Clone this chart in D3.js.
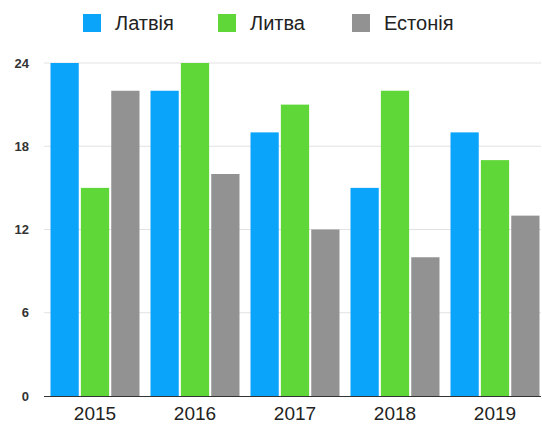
<!DOCTYPE html>
<html><head><meta charset="utf-8">
<script src="https://cdn.jsdelivr.net/npm/d3@7"></script>
<style>body{margin:0;background:#fff}svg{display:block;font-family:"Liberation Sans",Arial,sans-serif}</style>
</head><body>
<svg id="c" width="542" height="425"></svg>
<script>
const years = ["2015","2016","2017","2018","2019"];
const seriesNames = ["Латвія","Литва","Естонія"];
const latvia = [24,22,19,15,19];
const lithuania = [15,24,21,22,17];
const estonia = [22,16,12,10,13];
const yTicks = [0,6,12,18,24];
const colors = ["#0aa4fb","#5fd738","#929292"];

const seriesValues = [latvia, lithuania, estonia];
const svg = d3.select("#c");
const y = d3.scaleLinear().domain([0,24]).range([396,63]);
const x0 = d3.scaleBand().domain(years).range([45,545]).paddingInner(0.11).paddingOuter(0.055);
const x1 = d3.scaleBand().domain(seriesNames).range([0,x0.bandwidth()]).paddingInner(0.07);

// grid
svg.append("g").selectAll("line").data(yTicks.filter(d=>d>0)).join("line")
  .attr("x1",44).attr("x2",541).attr("y1",d=>y(d)).attr("y2",d=>y(d))
  .attr("stroke","#e2e2e2").attr("stroke-width",1);

// y labels
const yAxis = d3.axisLeft(y).tickValues(yTicks).tickSize(0).tickPadding(0);
const ya = svg.append("g").attr("transform","translate(29,0)").call(yAxis);
ya.select(".domain").remove();
ya.selectAll("text").attr("font-size",13).attr("font-weight","bold").attr("fill","#333").attr("font-family","Liberation Sans, Arial, sans-serif");

// bars
const groups = svg.append("g").selectAll("g").data(years).join("g")
  .attr("transform",d=>`translate(${x0(d)},0)`);
groups.selectAll("rect").data((d,i)=>seriesNames.map((s,j)=>({s,v:seriesValues[j][i],j}))).join("rect")
  .attr("x",d=>x1(d.s)).attr("width",x1.bandwidth())
  .attr("y",d=>y(d.v)).attr("height",d=>y(0)-y(d.v))
  .attr("fill",d=>colors[d.j]);

// x axis
const xAxis = d3.axisBottom(x0).tickSize(0).tickPadding(11);
const xa = svg.append("g").attr("transform","translate(0,396)").call(xAxis);
xa.select(".domain").remove();
xa.selectAll("text").attr("font-size",19).attr("fill","#222").attr("font-family","Liberation Sans, Arial, sans-serif");
svg.append("line").attr("x1",44).attr("x2",541).attr("y1",396.5).attr("y2",396.5).attr("stroke","#333").attr("stroke-width",1.2);

// legend
const legX = [83,218,352];
const leg = svg.append("g").selectAll("g").data(seriesNames).join("g")
  .attr("transform",(d,i)=>`translate(${legX[i]},14)`);
leg.append("rect").attr("width",18).attr("height",18).attr("fill",(d,i)=>colors[i]);
leg.append("text").attr("x",32).attr("y",16).attr("font-size",20).attr("fill","#222").text(d=>d);
</script>
</body></html>
